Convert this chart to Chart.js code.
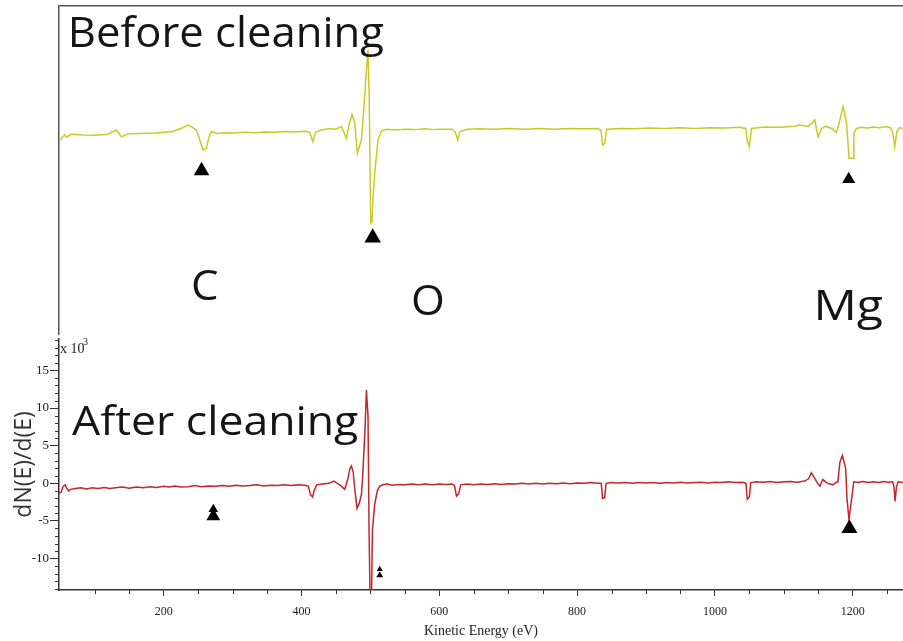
<!DOCTYPE html>
<html><head><meta charset="utf-8">
<script src="https://cdn.jsdelivr.net/npm/chart.js@4.4.0/dist/chart.umd.min.js"></script>
<style>
html,body{margin:0;padding:0;background:#fff;}
#wrap{position:relative;width:903px;height:641px;overflow:hidden;background:#fff;}
#top{position:absolute;left:0;top:0;}
#bot{position:absolute;left:0;top:330px;}
</style></head><body>
<div id="wrap"><canvas id="top" width="903" height="335"></canvas><canvas id="bot" width="903" height="311"></canvas></div>
<script>
// ---- Before cleaning (yellow) spectrum: kinetic energy (eV) and dN(E)/dE (x10^3, arbitrary offset panel)
const energyBefore = [49,56.3,58.8,66,82.4,100,117,131.3,138.6,148,165,187,201.5,213,225,235.3,240.6,247.5,252,257,262,265.3,269.2,277,288.5,303,317.6,332,346.6,361,375.6,390,404.6,412,416.3,420.6,429,441,449.6,457.9,465.2,468.5,473.3,477.2,481.1,486.9,490.7,493.9,496.5,498.3,500.4,502.3,503.8,506.2,511,516,523.7,535,550,564,579,593,608,619,623.4,626.7,629.6,641,658.6,680,702,724,745.7,767.5,789,811,830,834.5,837,840,843,862,883.6,905,927,949,970.7,992.5,1014,1036,1044.7,1047.3,1050,1053,1072,1094,1116,1123,1135,1140.7,1145,1149.6,1155,1160.8,1169,1176.4,1181.4,1186,1191,1194.8,1200.6,1201.7,1205.4,1213,1222,1230,1239,1248,1255,1258,1261,1264,1268,1273];
const signalBefore = [-1.3,-0.65,-0.95,-0.57,-0.65,-0.7,-0.6,0.0,-0.9,-0.5,-0.45,-0.4,-0.3,-0.2,0.2,0.65,0.4,0.0,-1.2,-2.6,-2.4,-1.0,-0.2,-0.45,-0.35,-0.4,-0.3,-0.35,-0.25,-0.3,-0.2,-0.25,-0.15,-0.3,-1.5,-0.3,0.0,0.2,0.1,0.45,-1.1,0.5,2.0,1.0,-3.05,-1.3,3.05,7.5,10.5,4.0,-12.2,-12.0,-8.7,-5.7,-1.3,-0.1,0.1,0.0,0.1,0.05,0.15,0.05,0.1,0.1,-0.3,-1.3,-0.2,0.1,0.15,0.1,0.2,0.1,0.2,0.1,0.2,0.15,0.2,0.0,-2.0,-1.7,0.1,0.2,0.15,0.25,0.2,0.3,0.2,0.3,0.25,0.35,0.2,-1.5,-2.2,0.2,0.4,0.35,0.5,0.65,0.45,0.9,1.3,-0.9,0.2,0.5,0.2,-0.35,1.3,3.1,0.9,-3.7,-3.7,-0.45,0.2,0.35,0.25,0.4,0.3,0.45,0.3,-0.3,-2.2,-0.2,0.3,0.2];

// ---- After cleaning (red) spectrum
const energyAfter = [48,51,54,57,59,62,65,72,80,88,96,105,114,122,130,140,150,160,170,180,190,200,208,216,225,235,245,255,265,275,285,295,305,315,325,335,345,355,365,375,385,395,405,410,413,416,419,422,430,440,447,452,457,462.7,467,470,472.4,475,477.2,480.5,484,486.9,488.5,490.3,492.5,494.2,496.5,498,499.5,501.5,502.9,506.2,510,513.5,518,524,532,540,550,560,570,580,590,600,610,618,622,625,628,631,640,650,660,670,680,690,700,710,720,730,740,750,760,770,780,790,800,810,820,830,835,837,840,842,850,860,870,880,890,900,910,920,930,940,950,960,970,980,990,1000,1010,1020,1030,1040,1045,1047,1050,1052,1060,1070,1080,1090,1100,1110,1120,1130,1136,1140,1145,1149,1152.4,1156.7,1162,1167,1171,1175,1178.5,1181.4,1185,1189.8,1191.7,1194.6,1198,1201.5,1208,1215,1222,1230,1238,1245,1252,1258,1260,1261.5,1263.5,1266,1273];
const signalAfter = [-1.3,-1.2,-0.4,-0.2,-0.6,-1.0,-0.8,-0.7,-0.6,-0.75,-0.6,-0.7,-0.55,-0.7,-0.6,-0.5,-0.65,-0.5,-0.6,-0.45,-0.55,-0.4,-0.5,-0.35,-0.5,-0.45,-0.3,-0.45,-0.35,-0.4,-0.3,-0.4,-0.25,-0.35,-0.3,-0.2,-0.35,-0.25,-0.3,-0.2,-0.3,-0.2,-0.25,-0.4,-1.5,-1.8,-0.8,-0.2,-0.1,0.0,0.3,0.0,-0.3,-0.8,0.5,1.9,2.3,1.5,-0.65,-3.3,-2.6,-1.5,0.5,3.75,8.0,12.4,9.0,-5.9,-15.5,-15.5,-6.3,-2.8,-1.0,-0.4,-0.2,-0.1,-0.25,-0.15,-0.2,-0.1,-0.2,-0.1,-0.2,-0.1,-0.15,-0.1,-0.3,-1.7,-1.4,-0.2,-0.1,-0.2,-0.1,-0.15,-0.05,-0.15,-0.05,-0.1,0.0,-0.1,0.0,-0.1,0.0,-0.05,0.05,-0.05,0.05,0.0,0.1,0.0,0.0,-2.0,-1.9,0.0,0.1,0.05,0.1,0.0,0.1,0.05,0.1,0.0,0.1,0.05,0.15,0.05,0.1,0.15,0.05,0.15,0.1,0.2,0.1,0.15,0.0,-2.1,-1.8,0.1,0.2,0.15,0.25,0.1,0.2,0.25,0.15,0.3,0.6,1.4,0.65,0.0,-0.4,0.5,0.1,-0.1,-0.2,0.1,0.2,2.8,3.7,2.0,-2.0,-4.8,-2.4,0.2,0.1,0.25,0.1,0.2,0.1,0.25,0.15,0.2,-0.5,-2.4,-0.5,0.2,0.1];

// ---- Peak markers (black triangles)
const markerBeforeE = [254.9, 503.3, 1194.2];
const markerBeforeV = [-5.33, -14.1, -6.44];
const markerAfterE = [272, 272, 513.5, 513.5, 1195.2];
const markerAfterV = [-3.44, -4.36, -11.43, -12.21, -6.0];

// ---- Axis ticks
const xTickValues = [200, 400, 600, 800, 1000, 1200];
const yTickValues = [-10, -5, 0, 5, 10, 15];

// ---- Text labels
const titleBefore = 'Before cleaning';
const titleAfter = 'After cleaning';
const elementLabels = ['C', 'O', 'Mg'];
const xAxisTitle = 'Kinetic Energy (eV)';
const yAxisTitle = 'dN(E)/d(E)';

// styles
const markerBeforeRadius = [9, 9.5, 7.5];
const markerAfterRadius = [5.5, 8, 3.5, 4, 9.2];
const yellow = '#caca28';
const red = '#c4262b';
const BIG = '"Open Sans", "Noto Sans", sans-serif';

function pts(xs, ys) { return xs.map((x, i) => ({x: x, y: ys[i]})); }

function drawFit(ctx, text, left, baseline, size, targetW) {
  ctx.font = size + 'px ' + BIG;
  const m = ctx.measureText(text);
  const inkW = m.actualBoundingBoxRight + m.actualBoundingBoxLeft;
  const sx = targetW ? targetW / inkW : 1;
  ctx.save();
  ctx.translate(left + m.actualBoundingBoxLeft * sx, baseline);
  ctx.scale(sx, 1);
  ctx.fillStyle = '#151515';
  ctx.textBaseline = 'alphabetic';
  ctx.textAlign = 'left';
  ctx.fillText(text, 0, 0);
  ctx.restore();
}

const topText = {
  id: 'topText',
  afterDraw(chart) {
    const ctx = chart.ctx;
    drawFit(ctx, titleBefore, 72, 47, 42, 311);
    drawFit(ctx, elementLabels[0], 193, 300, 42, 25);
    drawFit(ctx, elementLabels[1], 413, 315, 42, 30);
    drawFit(ctx, elementLabels[2], 818, 320, 42, 64);
  }
};

const botText = {
  id: 'botText',
  afterDraw(chart) {
    const ctx = chart.ctx;
    drawFit(ctx, titleAfter, 72, 105, 41, 286);
    ctx.save();
    ctx.fillStyle = '#222';
    ctx.textBaseline = 'alphabetic';
    ctx.font = '14px "Liberation Serif", serif';
    ctx.fillText('x 10', 60, 23);
    ctx.font = '10px "Liberation Serif", serif';
    ctx.fillText('3', 83, 15);
    ctx.restore();
  }
};

const minorTicks = {
  id: 'minorTicks',
  afterDraw(chart) {
    const {ctx, scales: {x, y}, chartArea} = chart;
    ctx.save();
    ctx.strokeStyle = '#333';
    ctx.lineWidth = 1;
    ctx.beginPath();
    for (let v = 100; v <= x.max; v += 50) {
      if (v % 200 === 0) continue;
      const px = Math.round(x.getPixelForValue(v)) + 0.5;
      ctx.moveTo(px, chartArea.bottom);
      ctx.lineTo(px, chartArea.bottom + 4);
    }
    for (let v = Math.ceil(y.min); v <= y.max; v++) {
      if (v % 5 === 0) continue;
      const py = Math.round(y.getPixelForValue(v)) + 0.5;
      ctx.moveTo(chartArea.left - 4, py);
      ctx.lineTo(chartArea.left, py);
    }
    ctx.stroke();
    ctx.restore();
  }
};

// ---- Top panel: before cleaning
new Chart(document.getElementById('top'), {
  type: 'line',
  data: {
    datasets: [
      {data: pts(energyBefore, signalBefore), borderColor: yellow, borderWidth: 1.5, pointRadius: 0, tension: 0, order: 2},
      {type: 'scatter', data: pts(markerBeforeE, markerBeforeV), pointStyle: 'triangle', pointRadius: markerBeforeRadius, backgroundColor: '#000', borderColor: '#000', borderWidth: 0, order: 1}
    ]
  },
  options: {
    responsive: false, animation: false, devicePixelRatio: 1,
    layout: {autoPadding: false, padding: {left: 59, top: 6, right: 0, bottom: 0}},
    plugins: {legend: {display: false}, tooltip: {enabled: false}},
    scales: {
      x: {type: 'linear', min: 48, max: 1273, display: false},
      xTop: {type: 'linear', position: 'top', min: 48, max: 1273, afterFit: s => { s.height = 0; },
        ticks: {display: false}, grid: {drawOnChartArea: false, drawTicks: false},
        border: {display: true, color: '#555', width: 1.5}},
      y: {min: -26.83, max: 16.23, afterFit: s => { s.width = 0; },
        ticks: {display: false}, grid: {drawOnChartArea: false, drawTicks: false},
        border: {display: true, color: '#555', width: 1.5}}
    }
  },
  plugins: [topText]
});

// ---- Bottom panel: after cleaning (with axes)
new Chart(document.getElementById('bot'), {
  type: 'line',
  data: {
    datasets: [
      {data: pts(energyAfter, signalAfter), borderColor: red, borderWidth: 1.5, pointRadius: 0, tension: 0, order: 2},
      {type: 'scatter', data: pts(markerAfterE, markerAfterV), pointStyle: 'triangle', pointRadius: markerAfterRadius, backgroundColor: '#000', borderColor: '#000', borderWidth: 0, order: 1}
    ]
  },
  options: {
    responsive: false, animation: false, devicePixelRatio: 1,
    layout: {autoPadding: false, padding: {left: 0, top: 5, right: 0, bottom: 0}},
    plugins: {legend: {display: false}, tooltip: {enabled: false}},
    scales: {
      x: {type: 'linear', min: 48, max: 1273,
        afterFit: s => { s.height = 51; },
        afterBuildTicks: s => { s.ticks = xTickValues.map(v => ({value: v})); },
        grid: {drawOnChartArea: false, drawTicks: true, tickLength: 6, tickColor: '#333', tickWidth: 1},
        border: {display: true, color: '#333', width: 1.5},
        ticks: {font: {family: '"Liberation Serif", serif', size: 12}, color: '#222', padding: 9, maxRotation: 0, autoSkip: false, callback: v => String(v)},
        title: {display: true, text: xAxisTitle, font: {family: '"Liberation Serif", serif', size: 14}, color: '#222', padding: {top: 0, bottom: 1}}},
      y: {min: -14.17, max: 19.2,
        afterFit: s => { s.width = 59; },
        afterBuildTicks: s => { s.ticks = yTickValues.map(v => ({value: v})); },
        grid: {drawOnChartArea: false, drawTicks: true, tickLength: 9, tickColor: '#333', tickWidth: 1},
        border: {display: true, color: '#333', width: 1.5},
        ticks: {font: {family: '"Liberation Serif", serif', size: 13}, color: '#222', padding: 1, autoSkip: false, callback: v => String(v)},
        title: {display: true, text: yAxisTitle, font: {family: BIG, size: 23}, color: '#333', padding: {top: 11, bottom: 0}}}
    }
  },
  plugins: [minorTicks, botText]
});
</script>
</body></html>
